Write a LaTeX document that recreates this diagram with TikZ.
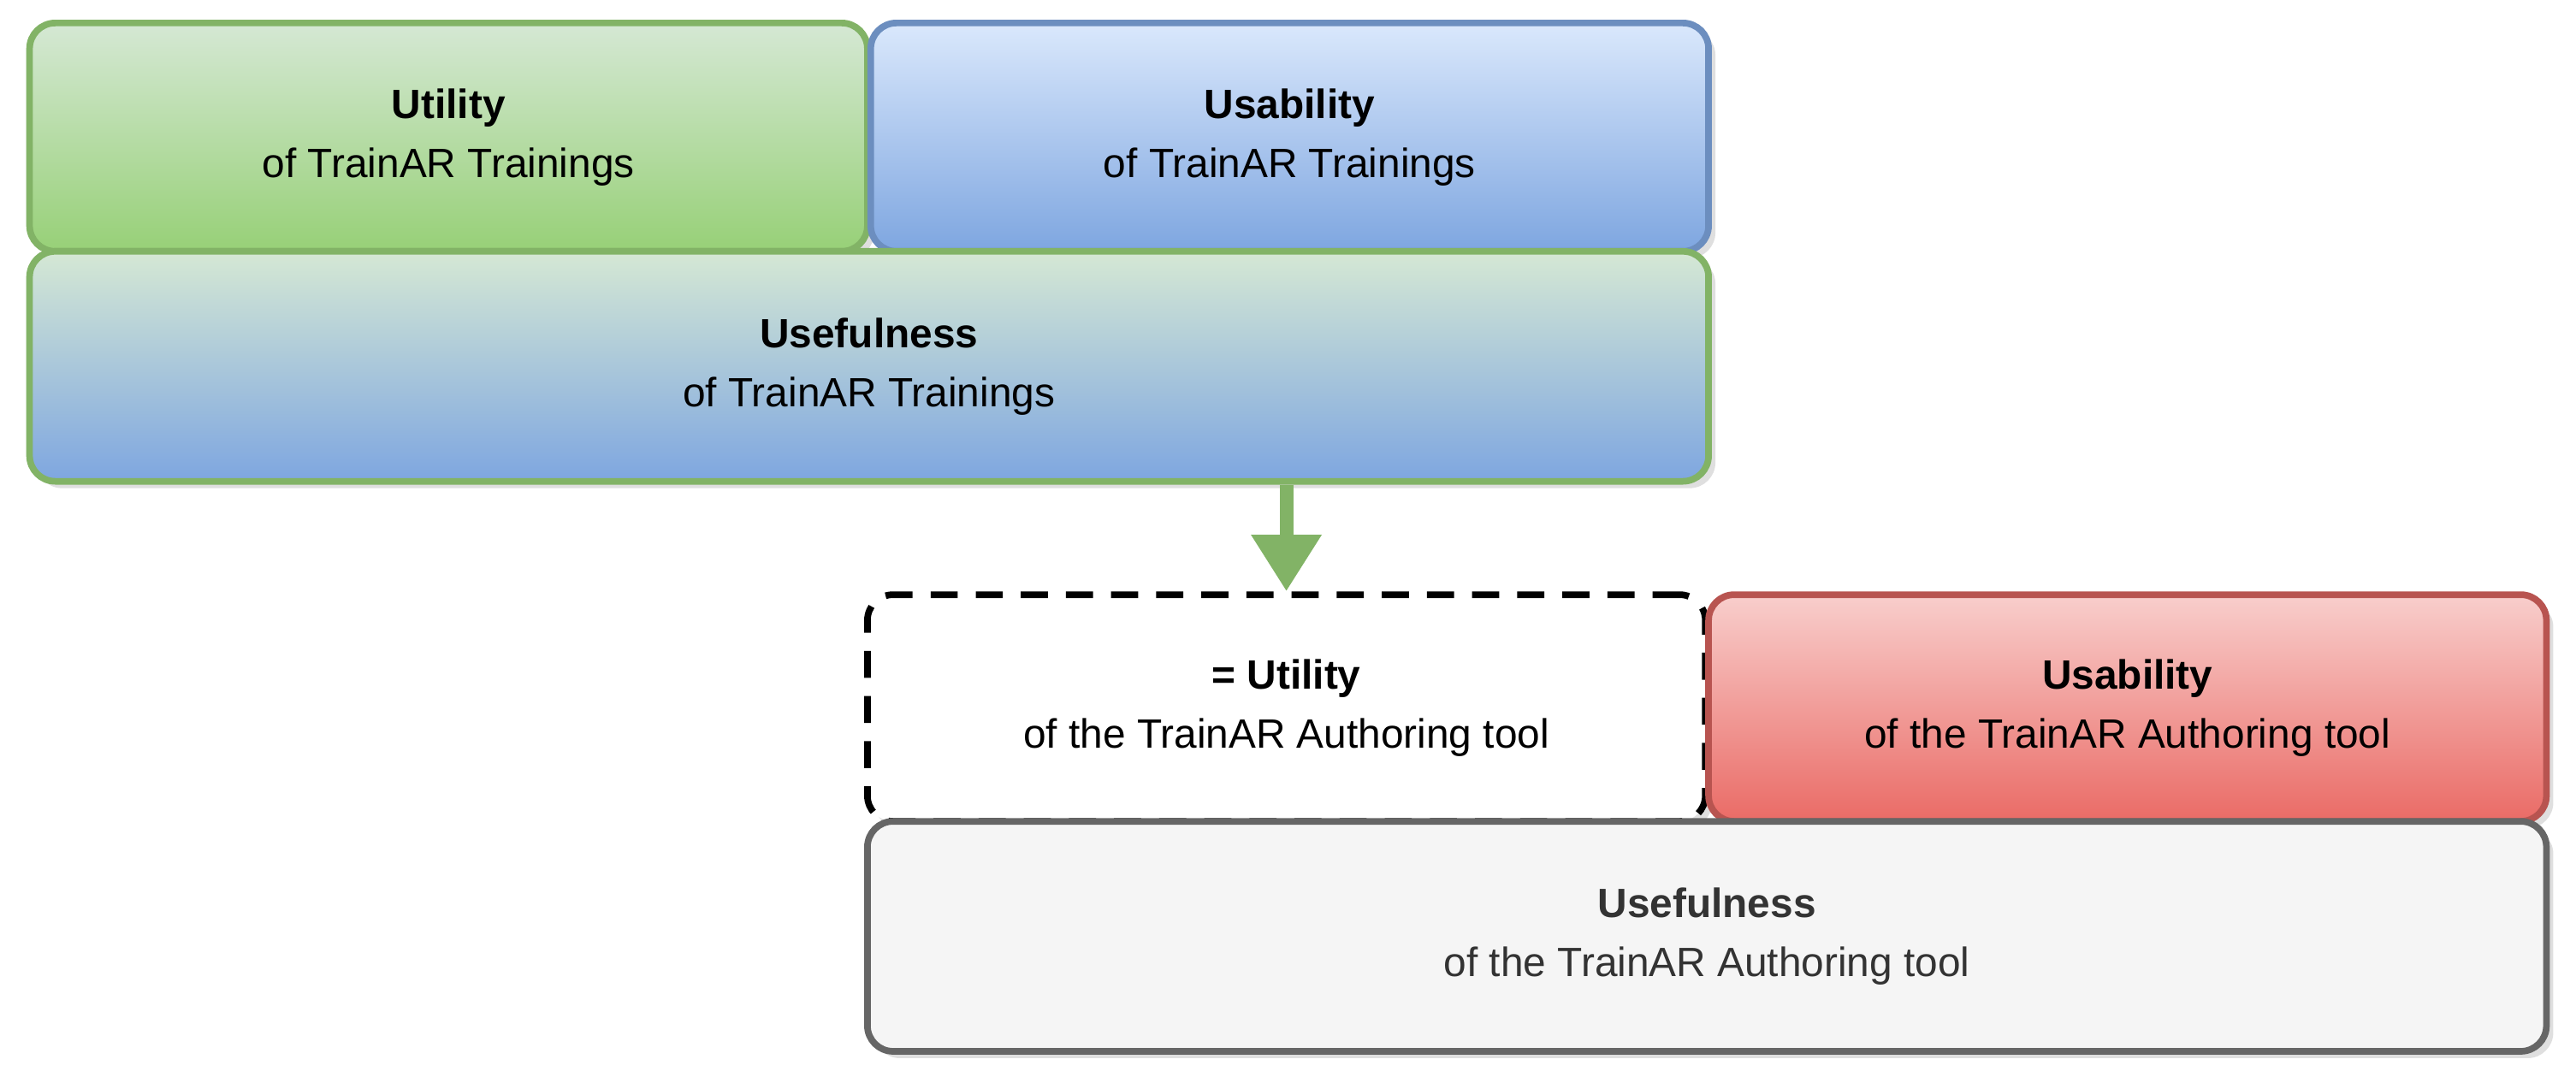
\documentclass[tikz,border=0pt]{standalone}
\usepackage{fontspec}
\setmainfont{Liberation Sans}
\usetikzlibrary{shadows,arrows.meta}
\definecolor{gA}{HTML}{D5E8D4}\definecolor{gB}{HTML}{97D077}\definecolor{gL}{HTML}{82B366}
\definecolor{bA}{HTML}{DAE8FC}\definecolor{bB}{HTML}{7EA6E0}\definecolor{bL}{HTML}{6C8EBF}
\definecolor{rA}{HTML}{F8CECC}\definecolor{rB}{HTML}{EA6B66}\definecolor{rL}{HTML}{B85450}
\definecolor{kA}{HTML}{F5F5F5}\definecolor{kL}{HTML}{666666}\definecolor{kT}{HTML}{333333}
\tikzset{
 box/.style={draw, line width=2.2pt, rounded corners=0.3cm, align=center, inner sep=0,
   font=\fontsize{13.6}{19.6}\selectfont, drop shadow={opacity=0.25, shadow xshift=0.08cm, shadow yshift=-0.08cm}},
}
\begin{document}
\begin{tikzpicture}[x=0.0192cm,y=-0.0192cm]
\useasboundingbox (0,0) rectangle (1568,659);
\node[box, draw=gL, top color=gA, bottom color=gB, minimum width=510*0.0192cm, minimum height=139*0.0192cm] (ut1) at (273,83.5) {\textbf{Utility}\\of TrainAR Trainings};
\node[box, draw=bL, top color=bA, bottom color=bB, minimum width=510*0.0192cm, minimum height=139*0.0192cm] (us1) at (785,83.5) {\textbf{Usability}\\of TrainAR Trainings};
\node[box, draw=gL, top color=gA, bottom color=bB, minimum width=1022*0.0192cm, minimum height=140*0.0192cm] (use1) at (529,223) {\textbf{Usefulness}\\of TrainAR Trainings};
\node[box, draw=black, dashed, dash pattern=on 9pt off 6pt, fill=white, minimum width=510*0.0192cm, minimum height=138*0.0192cm] (dash) at (783,431) {\textbf{= Utility}\\of the TrainAR Authoring tool};
\node[box, draw=rL, top color=rA, bottom color=rB, minimum width=510*0.0192cm, minimum height=138*0.0192cm] (us2) at (1295,431) {\textbf{Usability}\\of the TrainAR Authoring tool};
\node[box, draw=kL, fill=kA, text=kT, minimum width=1022*0.0192cm, minimum height=140*0.0192cm] (use2) at (1039,570) {\textbf{Usefulness}\\of the TrainAR Authoring tool};
\draw[gL, line width=4.5pt, -{Triangle[width=0.78cm,length=0.66cm]}] (dash.north |- use1.south) -- (dash.north);
\end{tikzpicture}
\end{document}
